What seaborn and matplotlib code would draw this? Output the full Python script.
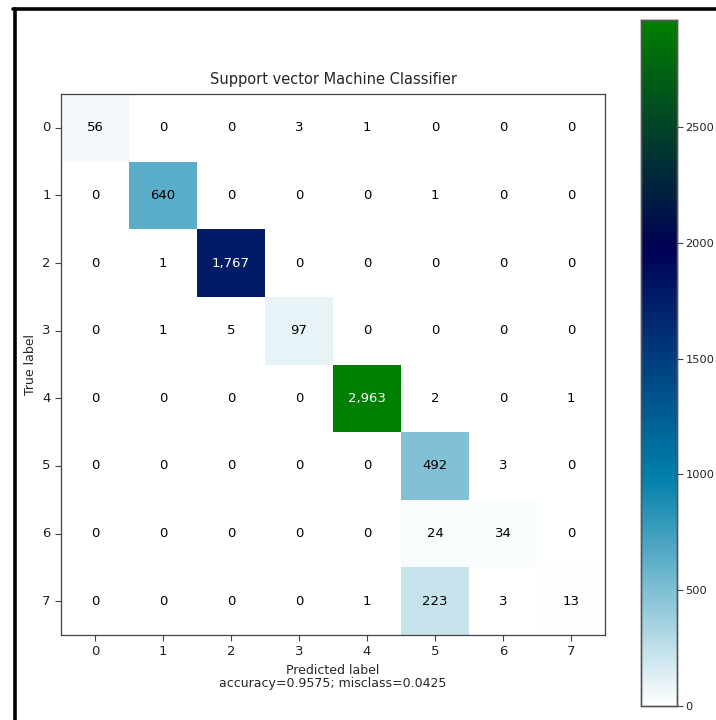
import numpy as np
import matplotlib
matplotlib.use("Agg")
import matplotlib.pyplot as plt
from matplotlib.lines import Line2D
import seaborn as sns

classes = ["0", "1", "2", "3", "4", "5", "6", "7"]
row0 = [56, 0, 0, 3, 1, 0, 0, 0]
row1 = [0, 640, 0, 0, 0, 1, 0, 0]
row2 = [0, 1, 1767, 0, 0, 0, 0, 0]
row3 = [0, 1, 5, 97, 0, 0, 0, 0]
row4 = [0, 0, 0, 0, 2963, 2, 0, 1]
row5 = [0, 0, 0, 0, 0, 492, 3, 0]
row6 = [0, 0, 0, 0, 0, 24, 34, 0]
row7 = [0, 0, 0, 0, 1, 223, 3, 13]
cbar_ticks = [0, 500, 1000, 1500, 2000, 2500]

cm = np.array([row0, row1, row2, row3, row4, row5, row6, row7])
accuracy = np.trace(cm) / cm.sum()
misclass = 1 - accuracy

sns.set_style("white")
plt.rcParams["font.family"] = ["DejaVu Sans"]

W, H = 716, 720
fig = plt.figure(figsize=(W / 100, H / 100), dpi=100)

def fx(px):
    return px / W

def fy(py):
    return 1 - py / H

ax = fig.add_axes([fx(61), fy(635), fx(605) - fx(61), fy(94) - fy(635)])
cax = fig.add_axes([fx(641), fy(706), fx(677) - fx(641), fy(20) - fy(706)])

labels = np.array([[f"{v:,}" for v in r] for r in cm])
sns.heatmap(cm, ax=ax, cbar_ax=cax, cmap="ocean_r", vmin=0, vmax=cm.max(),
            annot=False, square=False, linewidths=0)

thresh = cm.max() / 2
for i in range(cm.shape[0]):
    for j in range(cm.shape[1]):
        ax.text(j + 0.5, i + 0.5, labels[i, j], ha="center", va="center",
                fontsize=9.5, color="white" if cm[i, j] > thresh else "black")

ax.set_xticks(np.arange(len(classes)) + 0.5)
ax.set_yticks(np.arange(len(classes)) + 0.5)
ax.set_xticklabels(classes, rotation=0, fontsize=9.5)
ax.set_yticklabels(classes, rotation=0, fontsize=9.5)
ax.tick_params(axis="both", which="both", length=4, width=0.8, color="#444444",
               bottom=True, left=True, labelcolor="#222222")
for sp in ax.spines.values():
    sp.set_visible(True)
    sp.set_color("#444444")
    sp.set_linewidth(0.9)

ax.set_title("Support vector Machine Classifier", fontsize=10.5, pad=7)
ax.set_ylabel("True label", fontsize=9)
ax.set_xlabel(f"Predicted label\naccuracy={accuracy:0.4f}; misclass={misclass:0.4f}",
              fontsize=9, linespacing=1.0)

cax.set_yticks(cbar_ticks)
cax.tick_params(labelsize=8.2, length=4, width=0.8, pad=2, color="#444444",
                labelcolor="#222222")
cax.yaxis.set_ticks_position("right")
for sp in cax.spines.values():
    sp.set_visible(True)
    sp.set_color("#555555")
    sp.set_linewidth(1.0)

# window frame lines along the left and top edges
fig.add_artist(Line2D([fx(14.5), fx(14.5)], [fy(9), 0], transform=fig.transFigure,
                      color="black", linewidth=2.6))
fig.add_artist(Line2D([fx(13.2), 1], [fy(8.5), fy(8.5)], transform=fig.transFigure,
                      color="black", linewidth=2.6))

fig.savefig("out.png", dpi=100)
